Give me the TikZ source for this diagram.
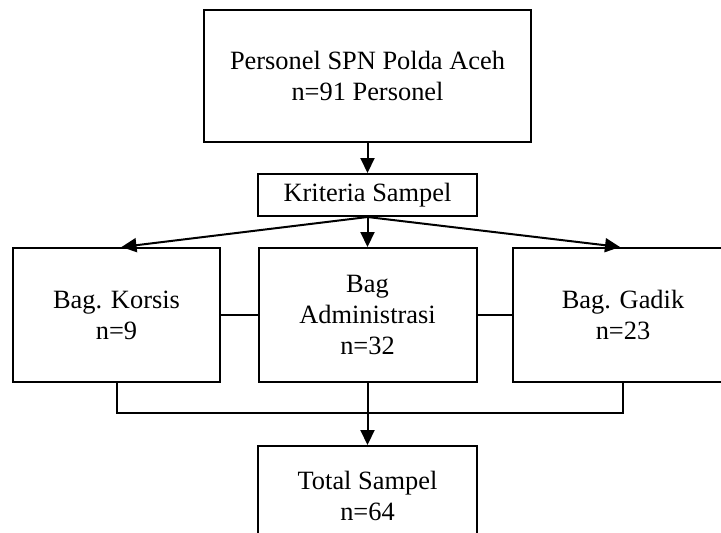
\documentclass[tikz,border=0pt]{standalone}
\usepackage{fontspec}
\setmainfont{Liberation Serif}
\usetikzlibrary{positioning, calc, arrows.meta}

\tikzset{
	kotak/.style={draw, line width=1pt, align=center, inner sep=2pt, font=\fontsize{13.2}{15.5}\selectfont},
	panah/.style={-{Triangle[width=7pt,length=7.5pt]}, line width=1pt},
	garis/.style={line width=1pt}
}

\begin{document}
\begin{tikzpicture}[x=0.5pt, y=-0.5pt]
			\useasboundingbox (0,0) rectangle (721,532);
			\clip (0,0) rectangle (721,532);
			\node (n1) [kotak, minimum width=163.5pt, minimum height=66pt] at (367.5,76) {Personel SPN Polda Aceh\\n=91 Personel};
			\node (n2) [kotak, minimum width=109.5pt, minimum height=21pt] at (367.5,195) {Kriteria Sampel};
			\node (n3) [kotak, minimum width=103.5pt, minimum height=67pt] at (116.5,315) {Bag. Korsis\\n=9};
			\node (n4) [kotak, minimum width=109pt, minimum height=67pt] at (367.5,315) {Bag\\Administrasi\\n=32};
			\node (n5) [kotak, minimum width=110pt, minimum height=67pt] at (623,315) {Bag. Gadik\\n=23};
			\node (n6) [kotak, minimum width=109.5pt, minimum height=50pt] at (367.5,496) {Total Sampel\\n=64};
			\coordinate (gabung) at (367.5,413);

			\draw [panah] (n1) -- (n2);
			\draw [panah] (n2.south) -- ($(n3.north)+(5,0)$);
			\draw [panah] (n2.south) -- (n4.north);
			\draw [panah] (n2.south) -- ($(n5.north)+(-3,0)$);

			\draw [garis] (n3) -- (n4);
			\draw [garis] (n4) -- (n5);
			\draw [garis] (n3.south) |- (gabung) -| (n5.south);
			\draw [panah] (n4.south) -- (n6.north);
		\end{tikzpicture}
\end{document}
